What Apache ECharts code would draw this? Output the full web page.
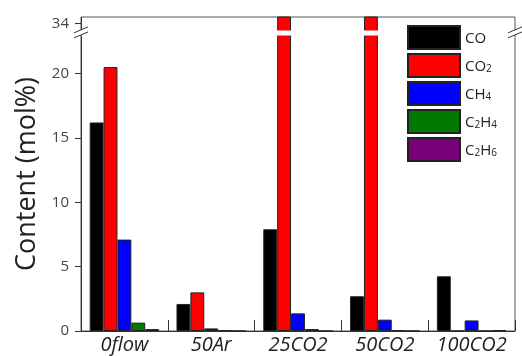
<!DOCTYPE html>
<html>
<head>
<meta charset="utf-8">
<script src="https://cdn.jsdelivr.net/npm/echarts@6/dist/echarts.min.js"></script>
<style>html,body{margin:0;padding:0;background:#fff;}#c{width:522px;height:356px;}</style>
</head>
<body>
<div id="c"></div>
<script>
var categories = ['0flow', '50Ar', '25CO2', '50CO2', '100CO2'];
var seriesNames = ['CO', 'CO2', 'CH4', 'C2H4', 'C2H6'];
var seriesColors = ['#000000', '#ff0000', '#0000ff', '#007a00', '#780078'];
var coValues = [16.2, 2.1, 7.9, 2.7, 4.25];
var co2Values = [20.5, 3.0, 36, 36, 0];
var ch4Values = [7.1, 0.2, 1.37, 0.88, 0.82];
var c2h4Values = [0.65, 0.05, 0.15, 0.05, 0];
var c2h6Values = [0.15, 0, 0, 0, 0.05];
var yTickValues = [0, 5, 10, 15, 20, 34];
var breakStart = 23, breakEnd = 33.5;

var allValues = [coValues, co2Values, ch4Values, c2h4Values, c2h6Values];

var chart = echarts.init(document.getElementById('c'), null, {renderer: 'canvas'});

var series = seriesNames.map(function (name, i) {
  return {
    name: name,
    type: 'bar',
    data: allValues[i],
    barGap: '0%',
    barCategoryGap: '20%',
    clip: true,
    itemStyle: {color: seriesColors[i], borderColor: '#222', borderWidth: 1},
    emphasis: {disabled: true}
  };
});

chart.setOption({
  animation: false,
  backgroundColor: '#fff',
  textStyle: {fontFamily: 'Open Sans'},
  grid: {left: 81, right: 7, top: 17, bottom: 25, show: true, borderColor: '#555', borderWidth: 1, backgroundColor: 'transparent'},
  legend: {
    orient: 'vertical',
    left: 407,
    top: 25,
    padding: 0,
    z: 500,
    zlevel: 0,
    itemWidth: 52,
    itemHeight: 23,
    itemGap: 3,
    icon: 'rect',
    data: seriesNames,
    textStyle: {
      color: '#222',
      fontSize: 15,
      fontFamily: 'Open Sans',
      rich: {
        n: {fontSize: 15, color: '#222', fontFamily: 'Open Sans', lineHeight: 18, verticalAlign: 'bottom'},
        s: {fontSize: 10, color: '#222', fontFamily: 'Open Sans', lineHeight: 14, verticalAlign: 'bottom'}
      }
    },
    formatter: function (name) {
      return name.replace(/([A-Za-z]+)/g, '{n|$1}').replace(/(\d)/g, '{s|$1}');
    }
  },
  xAxis: {
    type: 'category',
    data: categories,
    axisLine: {lineStyle: {color: '#333', width: 1}},
    axisTick: {show: true, inside: true, length: 11, alignWithLabel: false, lineStyle: {color: '#333'}},
    axisLabel: {color: '#222', fontSize: 20, fontStyle: 'italic', fontFamily: 'Open Sans', margin: 4, interval: 0}
  },
  yAxis: {
    type: 'value',
    min: 0,
    max: 34.5,
    name: 'Content (mol%)',
    nameLocation: 'middle',
    nameGap: 40,
    nameTextStyle: {fontSize: 27, color: '#222', fontFamily: 'Open Sans'},
    breaks: [{start: breakStart, end: breakEnd, gap: '1.6%'}],
    breakArea: {
      show: true,
      itemStyle: {color: '#fff', borderColor: '#fff', borderWidth: 0, opacity: 1},
      zigzagAmplitude: 0
    },
    axisLine: {show: true, lineStyle: {color: '#333', width: 1}},
    axisTick: {show: true, inside: false, length: 6, customValues: yTickValues, lineStyle: {color: '#333'}},
    axisLabel: {color: '#444', fontSize: 15, fontFamily: 'Open Sans', margin: 12, customValues: yTickValues},
    splitLine: {show: false}
  },
  series: series
});

// axis break marks ("//") on the left axis and right frame
var yA = chart.convertToPixel({yAxisIndex: 0}, breakStart);
var yB = chart.convertToPixel({yAxisIndex: 0}, breakEnd);
var gridRect = chart.getModel().getComponent('grid').coordinateSystem.getRect();
var xs = [gridRect.x, gridRect.x + gridRect.width];
var elements = [];
xs.forEach(function (x) {
  elements.push({type: 'rect', shape: {x: x - 2, y: yB, width: 4, height: yA - yB}, style: {fill: '#fff'}, z: 200});
  [yA, yB].forEach(function (y) {
    elements.push({type: 'line', shape: {x1: x - 7, y1: y + 3, x2: x + 7, y2: y - 3}, style: {stroke: '#333', lineWidth: 1}, z: 201});
  });
});
chart.setOption({graphic: {elements: elements}});
</script>
</body>
</html>
